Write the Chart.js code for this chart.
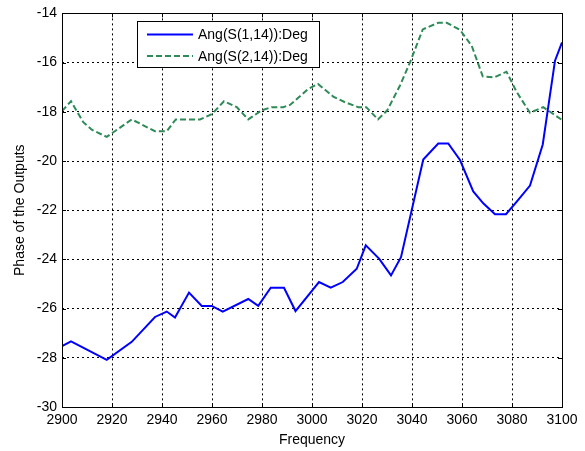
<!DOCTYPE html>
<html>
<head>
<meta charset="utf-8">
<script src="https://cdn.jsdelivr.net/npm/chart.js@4.4.1/dist/chart.umd.min.js"></script>
<style>
  html, body { margin: 0; padding: 0; background: #fff; }
  #wrap { width: 585px; height: 451px; position: relative; }
</style>
</head>
<body>
<div id="wrap"><canvas id="c" width="585" height="451"></canvas></div>
<script>
// Frequency sweep and measured output phases (degrees)
const freq1 = [2900, 2903.6, 2917.9, 2927.9, 2937.2, 2941.9, 2945.2, 2950.8, 2955.9, 2959.9,
  2964.3, 2974.5, 2978.5, 2983.5, 2988.8, 2993.4, 3002.8, 3007.5, 3012.3, 3017.9,
  3021.5, 3026.9, 3031.6, 3035.6, 3044.5, 3050.5, 3054.5, 3059.2, 3064.5, 3068.5,
  3073.2, 3077.6, 3081.9, 3087.2, 3092.3, 3097.2, 3100];
const phase1 = [-27.53, -27.33, -28.08, -27.35, -26.34, -26.12, -26.36, -25.35, -25.89, -25.89,
  -26.12, -25.61, -25.89, -25.15, -25.15, -26.1, -24.92, -25.15, -24.92, -24.38,
  -23.43, -23.98, -24.65, -23.91, -19.94, -19.29, -19.29, -19.96, -21.24, -21.72,
  -22.16, -22.16, -21.65, -21.0, -19.33, -15.92, -15.18];

const freq2 = [2900, 2903.6, 2908.5, 2911.9, 2917.9, 2927.9, 2937.2, 2941.9, 2945.5, 2955.2,
  2959.9, 2964.8, 2969.9, 2974.5, 2979.9, 2983.9, 2988.5, 2991.2, 2998.5, 3002.4,
  3008.5, 3013.2, 3018.5, 3021.7, 3026.4, 3030.1, 3035.2, 3039.2, 3044.3, 3050.5,
  3053.9, 3059.2, 3063.9, 3068.3, 3073.0, 3077.8, 3081.9, 3087.2, 3092.5, 3100];
const phase2 = [-17.97, -17.57, -18.42, -18.73, -19.02, -18.31, -18.79, -18.79, -18.31, -18.31,
  -18.1, -17.57, -17.81, -18.31, -17.94, -17.81, -17.81, -17.72, -17.07, -16.87,
  -17.38, -17.61, -17.81, -17.81, -18.31, -17.94, -16.93, -15.99, -14.65, -14.38,
  -14.38, -14.67, -15.32, -16.56, -16.6, -16.37, -17.2, -18.04, -17.81, -18.33];

const seriesNames = ['Ang(S(1,14)):Deg', 'Ang(S(2,14)):Deg'];
const xTicks = [2900, 2920, 2940, 2960, 2980, 3000, 3020, 3040, 3060, 3080, 3100];
const yTicks = [-30, -28, -26, -24, -22, -20, -18, -16, -14];

const FONT = 'Arial, "Liberation Sans", sans-serif';
const pts = (xs, ys) => xs.map((x, i) => ({ x: x, y: ys[i] }));

// Box around the axes plus short inward tick marks on all four sides
const framePlugin = {
  id: 'frame',
  afterDraw(chart) {
    const { ctx, chartArea: a, scales } = chart;
    ctx.save();
    ctx.strokeStyle = '#000';
    ctx.lineWidth = 1;
    ctx.setLineDash([]);
    ctx.beginPath();
    xTicks.forEach(v => {
      const px = Math.round(scales.x.getPixelForValue(v)) + 0.5;
      ctx.moveTo(px, a.bottom); ctx.lineTo(px, a.bottom - 4);
      ctx.moveTo(px, a.top); ctx.lineTo(px, a.top + 4);
    });
    yTicks.forEach(v => {
      const py = Math.round(scales.y.getPixelForValue(v)) + 0.5;
      ctx.moveTo(a.left, py); ctx.lineTo(a.left + 4, py);
      ctx.moveTo(a.right, py); ctx.lineTo(a.right - 4, py);
    });
    ctx.stroke();
    ctx.strokeRect(Math.round(a.left) + 0.5, Math.round(a.top) + 0.5,
      Math.round(a.right - a.left), Math.round(a.bottom - a.top));
    ctx.restore();
  }
};

// Boxed legend in the upper-left part of the axes
const legendBoxPlugin = {
  id: 'legendBox',
  afterDraw(chart) {
    const { ctx } = chart;
    const bx = 137.5, by = 21.5, bw = 182, bh = 46;
    ctx.save();
    ctx.fillStyle = '#fff';
    ctx.fillRect(bx, by, bw, bh);
    ctx.strokeStyle = '#000';
    ctx.lineWidth = 1;
    ctx.setLineDash([]);
    ctx.strokeRect(bx, by, bw, bh);
    const rows = [34.5, 56];
    chart.data.datasets.forEach((ds, i) => {
      const y = rows[i];
      ctx.strokeStyle = ds.borderColor;
      ctx.lineWidth = ds.borderWidth;
      ctx.setLineDash(ds.borderDash || []);
      ctx.beginPath();
      ctx.moveTo(147, y); ctx.lineTo(193, y);
      ctx.stroke();
      ctx.setLineDash([]);
      ctx.fillStyle = '#000';
      ctx.font = '14px ' + FONT;
      ctx.textBaseline = 'middle';
      ctx.textAlign = 'left';
      ctx.fillText(ds.label, 198, y + 1);
    });
    ctx.restore();
  }
};

new Chart(document.getElementById('c'), {
  type: 'line',
  data: {
    datasets: [
      {
        label: seriesNames[0],
        data: pts(freq1, phase1),
        borderColor: '#0000ff',
        borderWidth: 2,
        pointRadius: 0,
        tension: 0,
        fill: false
      },
      {
        label: seriesNames[1],
        data: pts(freq2, phase2),
        borderColor: '#2e8b57',
        borderWidth: 2,
        borderDash: [6, 3],
        pointRadius: 0,
        tension: 0,
        fill: false
      }
    ]
  },
  options: {
    responsive: false,
    animation: false,
    events: [],
    layout: { padding: { top: 11, right: 23, left: 0, bottom: 0 } },
    plugins: { legend: { display: false }, tooltip: { enabled: false } },
    scales: {
      x: {
        type: 'linear',
        min: 2900,
        max: 3100,
        afterBuildTicks: s => { s.ticks = xTicks.map(v => ({ value: v })); },
        afterFit: s => { s.height = 44; },
        ticks: { color: '#000', font: { family: FONT, size: 14 }, padding: 5, maxRotation: 0, autoSkip: false,
          callback: v => String(v) },
        grid: { color: '#000', lineWidth: 1, drawTicks: false },
        border: { display: false, dash: [2, 3] },
        title: { display: true, text: 'Frequency', color: '#000', font: { family: FONT, size: 14 }, padding: { top: 0, bottom: 2 } }
      },
      y: {
        type: 'linear',
        min: -30,
        max: -14,
        afterBuildTicks: s => { s.ticks = yTicks.map(v => ({ value: v })); },
        afterFit: s => { s.width = 62; },
        ticks: { color: '#000', font: { family: FONT, size: 14 }, padding: 5, autoSkip: false,
          callback: v => String(v) },
        grid: { color: '#000', lineWidth: 1, drawTicks: false },
        border: { display: false, dash: [2, 3] },
        title: { display: true, text: 'Phase of the Outputs', color: '#000', font: { family: FONT, size: 14 }, padding: { top: 12, bottom: 0 } }
      }
    }
  },
  plugins: [framePlugin, legendBoxPlugin]
});
</script>
</body>
</html>
